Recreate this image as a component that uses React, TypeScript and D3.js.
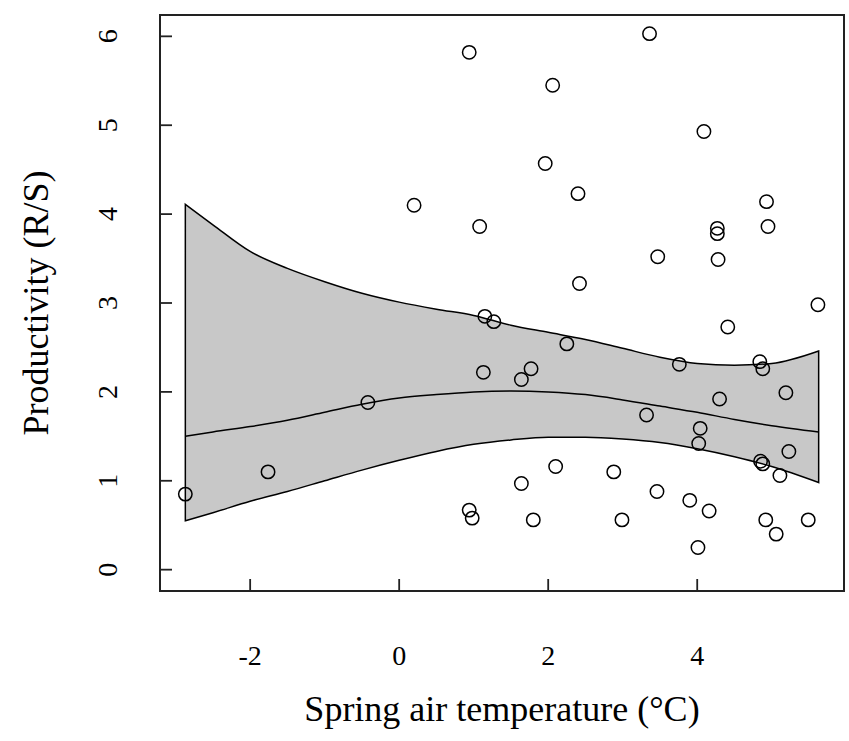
import * as d3 from "d3";

// observed points: spring air temperature (°C) vs productivity (R/S)
const temperature = [
  0.94, 0.2, 1.08, 3.36, 2.06, 4.09, 1.96, 2.4, 4.93, 4.95, 4.27, 4.27, 3.47,
  4.28, 2.42, 5.62, 4.41, 1.27, 1.15, 2.25, 3.76, 4.84, 4.88, 1.13, 1.77, 1.64,
  5.19, 4.3, 3.32, 4.04, 4.02, 5.23, 4.85, 4.88, 5.11, 2.1, 2.88, 1.64, 3.46,
  3.9, 4.16, 1.8, 2.99, 4.92, 5.06, 5.49, 4.01, -0.42, -1.76, -2.87, 0.94, 0.98,
];
const productivity = [
  5.82, 4.1, 3.86, 6.03, 5.45, 4.93, 4.57, 4.23, 4.14, 3.86, 3.84, 3.78, 3.52,
  3.49, 3.22, 2.98, 2.73, 2.79, 2.85, 2.54, 2.31, 2.34, 2.26, 2.22, 2.26, 2.14,
  1.99, 1.92, 1.74, 1.59, 1.42, 1.33, 1.22, 1.19, 1.06, 1.16, 1.1, 0.97, 0.88,
  0.78, 0.66, 0.56, 0.56, 0.56, 0.4, 0.56, 0.25, 1.88, 1.1, 0.85, 0.67, 0.58,
];

// fitted smooth and its confidence band
const fitX = [
  -2.87, -2.5, -2.0, -1.5, -1.0, -0.5, 0, 0.5, 1.0, 1.5, 2.0, 2.5, 3.0, 3.5,
  4.0, 4.5, 5.0, 5.63,
];
const fitMean = [
  1.5, 1.55, 1.61, 1.68, 1.77, 1.86, 1.93, 1.97, 2.0, 2.01, 2.0, 1.97, 1.91,
  1.84, 1.77, 1.69, 1.62, 1.55,
];
const fitLower = [
  0.55, 0.64, 0.77, 0.88, 1.0, 1.12, 1.23, 1.33, 1.41, 1.46, 1.49, 1.49, 1.47,
  1.43, 1.36, 1.27, 1.16, 0.98,
];
const fitUpper = [
  4.11, 3.88, 3.58, 3.39, 3.24, 3.11, 3.01, 2.93, 2.86, 2.75, 2.67, 2.59, 2.49,
  2.39, 2.32, 2.3, 2.32, 2.46,
];

const xTicks = [-2, 0, 2, 4];
const yTicks = [0, 1, 2, 3, 4, 5, 6];

const W = 849;
const H = 741;
const box = { left: 160, top: 15, right: 844, bottom: 591 };
const FONT = "'Liberation Serif', 'Times New Roman', serif";

export default function App() {
  // R-style 4% axis expansion
  const xr = d3.extent(fitX) as [number, number];
  const xPad = (xr[1] - xr[0]) * 0.04;
  const x = d3
    .scaleLinear()
    .domain([xr[0] - xPad, xr[1] + xPad])
    .range([box.left, box.right]);
  const y = d3
    .scaleLinear()
    .domain([-0.24, 6.24])
    .range([box.bottom, box.top]);

  const band = fitX.map((v, i) => ({
    x: v,
    lo: fitLower[i],
    hi: fitUpper[i],
    m: fitMean[i],
  }));

  const area = d3
    .area<(typeof band)[number]>()
    .x((d) => x(d.x))
    .y0((d) => y(d.lo))
    .y1((d) => y(d.hi))
    .curve(d3.curveMonotoneX);

  const meanLine = d3
    .line<(typeof band)[number]>()
    .x((d) => x(d.x))
    .y((d) => y(d.m))
    .curve(d3.curveMonotoneX);

  const tickLen = 12;
  const tickFont = { fontSize: "28px", fontFamily: FONT };
  const titleFont = { fontSize: "36px", fontFamily: FONT };

  return (
    <svg
      width={W}
      height={H}
      style={{ position: "absolute", left: 0, top: 0, background: "#fff" }}
    >
      {/* confidence band */}
      <path
        d={area(band) ?? ""}
        fill="#c8c8c8"
        stroke="#000"
        strokeWidth={1.5}
      />
      <path d={meanLine(band) ?? ""} fill="none" stroke="#000" strokeWidth={1.5} />

      {/* points */}
      {temperature.map((t, i) => (
        <circle
          key={i}
          cx={x(t)}
          cy={y(productivity[i])}
          r={6.7}
          fill="none"
          stroke="#000"
          strokeWidth={1.5}
        />
      ))}

      {/* frame */}
      <rect
        x={box.left}
        y={box.top}
        width={box.right - box.left}
        height={box.bottom - box.top}
        fill="none"
        stroke="#222"
        strokeWidth={2}
      />

      {/* x axis */}
      {xTicks.map((t) => (
        <g key={t}>
          <line
            x1={x(t)}
            x2={x(t)}
            y1={box.bottom}
            y2={box.bottom - tickLen}
            stroke="#222"
            strokeWidth={1.8}
          />
          <text x={x(t)} y={665} textAnchor="middle" style={tickFont} fill="#000">
            {t}
          </text>
        </g>
      ))}

      {/* y axis */}
      {yTicks.map((t) => (
        <g key={t}>
          <line
            x1={box.left}
            x2={box.left + tickLen}
            y1={y(t)}
            y2={y(t)}
            stroke="#222"
            strokeWidth={1.8}
          />
          <text
            transform={`translate(117,${y(t)}) rotate(-90)`}
            textAnchor="middle"
            style={tickFont}
            fill="#000"
          >
            {t}
          </text>
        </g>
      ))}

      <text
        x={(box.left + box.right) / 2}
        y={721}
        textAnchor="middle"
        style={titleFont}
        fill="#000"
      >
        Spring air temperature (°C)
      </text>
      <text
        transform={`translate(48,${(box.top + box.bottom) / 2}) rotate(-90)`}
        textAnchor="middle"
        style={titleFont}
        fill="#000"
      >
        Productivity (R/S)
      </text>
    </svg>
  );
}
